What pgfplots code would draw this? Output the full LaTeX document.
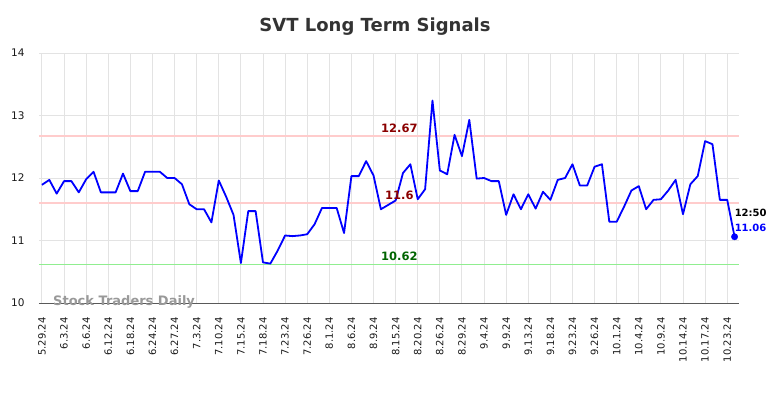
\documentclass[border=0pt]{standalone}
\usepackage{pgfplots}
\pgfplotsset{compat=1.18}
\usepackage{pgfplotstable}
\usepackage{fontspec}
\setmainfont{DejaVu Sans}
\definecolor{gridc}{HTML}{E3E3E3}
\definecolor{resred}{HTML}{FFCCCC}
\definecolor{supgreen}{HTML}{90EE90}
\definecolor{lblred}{HTML}{8B0000}
\definecolor{lblgreen}{HTML}{006400}
\definecolor{titlec}{HTML}{333333}
\pgfplotstableread{
i v
0 11.89
1 11.97
2 11.75
3 11.95
4 11.95
5 11.77
6 11.98
7 12.10
8 11.77
9 11.77
10 11.77
11 12.07
12 11.79
13 11.79
14 12.10
15 12.10
16 12.10
17 12.00
18 12.00
19 11.90
20 11.58
21 11.50
22 11.50
23 11.29
24 11.96
25 11.70
26 11.41
27 10.64
28 11.47
29 11.47
30 10.65
31 10.63
32 10.84
33 11.08
34 11.07
35 11.08
36 11.10
37 11.26
38 11.52
39 11.52
40 11.52
41 11.12
42 12.03
43 12.03
44 12.27
45 12.04
46 11.50
47 11.57
48 11.64
49 12.08
50 12.22
51 11.66
52 11.82
53 13.24
54 12.12
55 12.06
56 12.69
57 12.35
58 12.93
59 11.99
60 12.00
61 11.95
62 11.95
63 11.41
64 11.74
65 11.50
66 11.74
67 11.51
68 11.78
69 11.65
70 11.97
71 12.00
72 12.22
73 11.88
74 11.88
75 12.18
76 12.22
77 11.30
78 11.30
79 11.54
80 11.80
81 11.87
82 11.50
83 11.65
84 11.66
85 11.80
86 11.97
87 11.42
88 11.90
89 12.03
90 12.59
91 12.54
92 11.65
93 11.65
94 11.06
}\prices
\begin{document}
\begin{tikzpicture}
\useasboundingbox (0,0) rectangle (784pt,398pt);
\node[font=\bfseries\fontsize{18}{21}\selectfont, text=titlec] at (375pt,371pt) {SVT Long Term Signals};
\begin{axis}[
  at={(39pt,95pt)}, anchor=south west,
  scale only axis, width=700pt, height=250pt,
  xmin=-0.4, xmax=94.6, ymin=10, ymax=14,
  xtick={0,3,...,93},
  xticklabels={5.29.24,6.3.24,6.6.24,6.12.24,6.18.24,6.24.24,6.27.24,7.3.24,7.10.24,7.15.24,7.18.24,7.23.24,7.26.24,8.1.24,8.6.24,8.9.24,8.15.24,8.20.24,8.26.24,8.29.24,9.4.24,9.9.24,9.13.24,9.18.24,9.23.24,9.26.24,10.1.24,10.4.24,10.9.24,10.14.24,10.17.24,10.23.24},
  ytick={10,11,12,13,14},
  grid=major, major grid style={gridc, line width=0.9pt},
  major tick length=0pt,
  axis x line*=bottom, axis y line*=left,
  x axis line style={draw=black!65, line width=0.9pt, -},
  y axis line style={draw=none},
  xticklabel style={rotate=90, anchor=east, font=\fontsize{10}{12}\selectfont, text=black!90},
  xticklabel shift=11pt,
  yticklabel style={font=\fontsize{10.5}{12}\selectfont, text=black!90},
  yticklabel shift=11pt,
  /pgf/number format/assume math mode=true,
  clip=false,
]
\addplot[resred, line width=1.3pt] coordinates {(-0.4,12.67) (94.6,12.67)};
\addplot[resred, line width=1.3pt] coordinates {(-0.4,11.6) (94.6,11.6)};
\addplot[supgreen, line width=1.3pt] coordinates {(-0.4,10.62) (94.6,10.62)};
\addplot[blue, line width=1.8pt, line join=round] table[x=i, y=v] {\prices};
\addplot[blue, only marks, mark=*, mark size=3.2pt] coordinates {(94,11.06)};
\node[font=\bfseries\fontsize{11.5}{13}\selectfont, text=lblred] at (axis cs:48.5,12.67) [yshift=7.5pt] {12.67};
\node[font=\bfseries\fontsize{11.5}{13}\selectfont, text=lblred] at (axis cs:48.5,11.6) [yshift=7.5pt] {11.6};
\node[font=\bfseries\fontsize{11.5}{13}\selectfont, text=lblgreen] at (axis cs:48.5,10.62) [yshift=7.5pt] {10.62};
\node[font=\bfseries\fontsize{13}{15}\selectfont, text=black!40, anchor=west, inner sep=0pt] at (axis cs:1.5,10.02) {Stock Traders Daily};
\node[font=\bfseries\fontsize{10}{12}\selectfont, anchor=west, inner sep=0pt] at (axis cs:94,11.44) {12:50};
\node[font=\bfseries\fontsize{10}{12}\selectfont, text=blue, anchor=west, inner sep=0pt] at (axis cs:94,11.21) {11.06};
\end{axis}
\end{tikzpicture}
\end{document}
